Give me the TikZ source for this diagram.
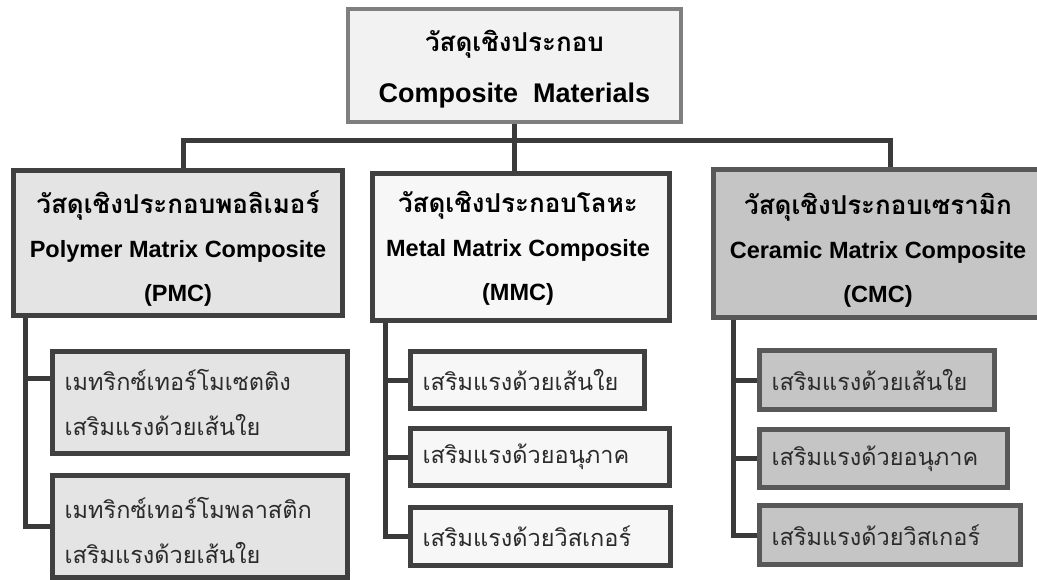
\documentclass[tikz,border=0pt]{standalone}
\usepackage{fontspec}
\setmainfont{Liberation Sans}
\newfontfamily\thai[Script=Thai]{Loma}
\begin{document}
\begin{tikzpicture}[x=1pt,y=-1pt,
  box/.style={draw, rectangle, inner sep=0pt, line width=5pt},
  topbox/.style={box, line width=4pt, draw=topline, fill=topfill},
  pmcbox/.style={box, draw=darkline, fill=pmcfill},
  mmcbox/.style={box, draw=darkline, fill=mmcfill},
  cmcbox/.style={box, draw=cmcline, fill=cmcfill},
  hdr/.style={align=center, inner sep=0pt, text=black, font=\bfseries\fontsize{23.5}{44}\selectfont},
  tophdr/.style={hdr, font=\bfseries\fontsize{27}{51}\selectfont},
  subtxt/.style={align=left, inner sep=0pt, anchor=west, text=subtext, font=\thai\fontsize{23.5}{45}\selectfont},
  conn/.style={draw=connline, line width=5pt}
]
\definecolor{topline}{HTML}{7F7F7F}
\definecolor{topfill}{HTML}{F2F2F2}
\definecolor{darkline}{HTML}{404040}
\definecolor{pmcfill}{HTML}{E4E4E4}
\definecolor{mmcfill}{HTML}{F7F7F7}
\definecolor{cmcfill}{HTML}{C5C5C5}
\definecolor{cmcline}{HTML}{585858}
\definecolor{connline}{HTML}{3A3A3A}
\definecolor{subtext}{HTML}{2B2B2B}
\useasboundingbox (0,0) rectangle (1037,579);
\begin{scope}
\clip (0,0) rectangle (1037,579);
% main boxes
\node[topbox, minimum width=333pt, minimum height=113pt] (top) at (514.5,65.5) {};
\node[pmcbox, minimum width=329pt, minimum height=145pt] (pmc) at (178,243) {};
\node[mmcbox, minimum width=297pt, minimum height=147pt] (mmc) at (521,247) {};
\node[cmcbox, minimum width=329pt, minimum height=148pt] (cmc) at (878,243.5) {};
% sub boxes
\node[pmcbox, minimum width=295pt, minimum height=102pt] (p1) at (200,402.5) {};
\node[pmcbox, minimum width=295pt, minimum height=102pt] (p2) at (200,526.5) {};
\node[mmcbox, minimum width=234pt, minimum height=57pt] (m1) at (527.5,380) {};
\node[mmcbox, minimum width=259pt, minimum height=57pt] (m2) at (540,457) {};
\node[mmcbox, minimum width=260pt, minimum height=58pt] (m3) at (540.5,536.5) {};
\node[cmcbox, minimum width=235pt, minimum height=59pt] (c1) at (877,380) {};
\node[cmcbox, minimum width=248pt, minimum height=58pt] (c2) at (883.5,458.5) {};
\node[cmcbox, minimum width=261pt, minimum height=59pt] (c3) at (890,535) {};
% connectors
\coordinate (bl) at (183,140);
\coordinate (br) at (890,140);
\draw[conn] (pmc.north -| bl) -- (bl) -- (br) -- (cmc.north -| br);
\draw[conn] (top.south) -- (top.south |- mmc.north);
\coordinate (pv) at (25,0);
\coordinate (mv) at (385,0);
\coordinate (cv) at (733,0);
\draw[conn] (pmc.south -| pv) |- ([yshift=24.5pt]p1.west);
\draw[conn] (pmc.south -| pv) |- (p2.west);
\draw[conn] (mmc.south -| mv) |- (m1.west);
\draw[conn] (mmc.south -| mv) |- (m2.west);
\draw[conn] (mmc.south -| mv) |- (m3.west);
\draw[conn] (cmc.south -| cv) |- (c1.west);
\draw[conn] (cmc.south -| cv) |- (c2.west);
\draw[conn] (cmc.south -| cv) |- (c3.west);
% header texts
\node[tophdr] (topt) at (514.5,69) {{\thai\fontsize{26}{51}\selectfont วัสดุเชิงประกอบ}\\Composite\ \ Materials};
\node[hdr] (pmct) at (178,248.5) {{\thai\fontsize{26}{44}\selectfont วัสดุเชิงประกอบพอลิเมอร์}\\Polymer Matrix Composite\\(PMC)};
\node[hdr] (mmct) at (518,248.5) {{\thai\fontsize{26}{44}\selectfont วัสดุเชิงประกอบโลหะ}\\Metal Matrix Composite\\(MMC)};
\node[hdr] (cmct) at (878,250) {{\thai\fontsize{26}{44}\selectfont วัสดุเชิงประกอบเซรามิก}\\Ceramic Matrix Composite\\(CMC)};
% sub texts
\node[subtxt] (p1t) at ([xshift=14.5pt]p1.west) {เมทริกซ์เทอร์โมเซตติง\\เสริมแรงด้วยเส้นใย};
\node[subtxt] (p2t) at ([xshift=14.5pt,yshift=-4pt]p2.west) {เมทริกซ์เทอร์โมพลาสติก\\เสริมแรงด้วยเส้นใย};
\node[subtxt] (m1t) at ([xshift=14.5pt]m1.west) {เสริมแรงด้วยเส้นใย};
\node[subtxt] (m2t) at ([xshift=14.5pt]m2.west) {เสริมแรงด้วยอนุภาค};
\node[subtxt] (m3t) at ([xshift=14.5pt]m3.west) {เสริมแรงด้วยวิสเกอร์};
\node[subtxt] (c1t) at ([xshift=14.5pt]c1.west) {เสริมแรงด้วยเส้นใย};
\node[subtxt] (c2t) at ([xshift=14.5pt]c2.west) {เสริมแรงด้วยอนุภาค};
\node[subtxt] (c3t) at ([xshift=14.5pt]c3.west) {เสริมแรงด้วยวิสเกอร์};
\end{scope}
\end{tikzpicture}
\end{document}
